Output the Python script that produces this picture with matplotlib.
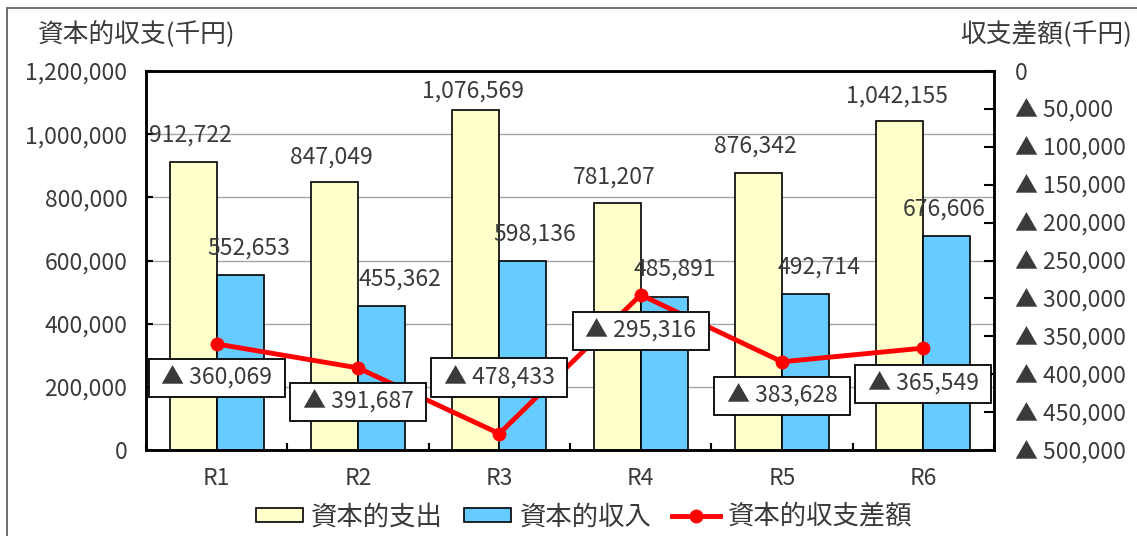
import matplotlib
matplotlib.use("Agg")
import matplotlib.pyplot as plt
import numpy as np
from matplotlib.ticker import FuncFormatter, MultipleLocator
from matplotlib.patches import Rectangle

plt.rcParams['font.family'] = ['Noto Sans CJK JP', 'DejaVu Sans']

categories = ['R1', 'R2', 'R3', 'R4', 'R5', 'R6']
expenditure = [912722, 847049, 1076569, 781207, 876342, 1042155]   # 資本的支出
revenue = [552653, 455362, 598136, 485891, 492714, 676606]         # 資本的収入
balance = [360069, 391687, 478433, 295316, 383628, 365549]         # 資本的収支差額 (deficit)

label_exp = '資本的支出'
label_rev = '資本的収入'
label_bal = '資本的収支差額'
title_left = '資本的収支(千円)'
title_right = '収支差額(千円)'

W, H = 1137, 536
fig = plt.figure(figsize=(W / 100, H / 100), dpi=100)
ax = fig.add_axes([146 / W, (H - 450) / H, (994 - 146) / W, (450 - 71) / H])

x = np.arange(len(categories))
bw = 1 / 3
c_yel = '#FFFFCC'
c_blu = '#66CCFF'
tc = '#3A3A3A'
fs = 16.5

b1 = ax.bar(x - bw / 2, expenditure, bw, color=c_yel, edgecolor='black', linewidth=1.2, zorder=3, label=label_exp)
b2 = ax.bar(x + bw / 2, revenue, bw, color=c_blu, edgecolor='black', linewidth=1.2, zorder=3, label=label_rev)

ax.set_xlim(-0.5, len(categories) - 0.5)
ax.set_ylim(0, 1200000)
ax.yaxis.set_major_locator(MultipleLocator(200000))
ax.yaxis.set_major_formatter(FuncFormatter(lambda v, p: f'{v:,.0f}'))
ax.grid(axis='y', color='#A6A6A6', linewidth=1, zorder=0)
ax.set_xticks(x)
ax.set_xticklabels(categories)
ax.set_xticks(np.arange(len(categories) + 1) - 0.5, minor=True)
ax.tick_params(axis='x', which='major', length=0, pad=12, labelsize=fs, labelcolor=tc)
ax.tick_params(axis='x', which='minor', direction='in', length=5, width=1.5)
ax.tick_params(axis='y', direction='in', length=5, width=1.5, pad=13.5, labelsize=fs, labelcolor=tc)
for s in ax.spines.values():
    s.set_linewidth(1.8)

label_off_exp = [27, 25, 19, 26, 27, 25]
for i, v in enumerate(expenditure):
    ax.annotate(f'{v:,}', (x[i] - bw / 2, v), xytext=(-3, label_off_exp[i]), textcoords='offset pixels',
                ha='center', va='center', fontsize=fs, color=tc, zorder=5)
label_dx_rev = [9, 18, 12, 11, 13, -3]
for i, v in enumerate(revenue):
    ax.annotate(f'{v:,}', (x[i] + bw / 2, v), xytext=(label_dx_rev[i], 27), textcoords='offset pixels',
                ha='center', va='center', fontsize=fs, color=tc, zorder=5)

ax2 = ax.twinx()
ax2.set_ylim(500000, 0)
ax2.yaxis.set_major_locator(MultipleLocator(50000))
ax2.yaxis.set_major_formatter(FuncFormatter(lambda v, p: '0' if v == 0 else f'▲ {v:,.0f}'))
ax2.tick_params(axis='y', direction='in', length=7, width=1.5, pad=15, labelsize=fs, labelcolor=tc)
for s in ax2.spines.values():
    s.set_linewidth(1.8)
ln, = ax2.plot(x, balance, color='#FF0000', linewidth=3.5, marker='o', markersize=9, zorder=6, label=label_bal)

bal_off = [-34, -34, 56, -36, -34, -36]
for i, v in enumerate(balance):
    ax2.annotate(f' ▲ {v:,} ', (x[i], v), xytext=(0, bal_off[i]), textcoords='offset pixels',
                 ha='center', va='center', fontsize=fs, color=tc, zorder=7,
                 bbox=dict(boxstyle='square,pad=0.33', facecolor='white', edgecolor='black', linewidth=1.3))

fig.text(38 / W, 1 - 35 / H, title_left, fontsize=18.5, color=tc, ha='left', va='center')
fig.text(1132 / W, 1 - 35 / H, title_right, fontsize=18.5, color=tc, ha='right', va='center')

fig.legend(handles=[b1, b2, ln], labels=[label_exp, label_rev, label_bal], loc='center',
           bbox_to_anchor=(584 / W, 1 - 517 / H), ncol=3, frameon=False, fontsize=19,
           handlelength=1.8, handleheight=0.45, handletextpad=0.3, columnspacing=0.8,
           labelcolor=tc)

frame = Rectangle((6.5 / W, -0.1), 1.2, 1 - 7.5 / H + 0.1, transform=fig.transFigure,
                  fill=False, edgecolor='#555555', linewidth=1.2)
fig.patches.append(frame)

fig.savefig('out.png', dpi=100)
